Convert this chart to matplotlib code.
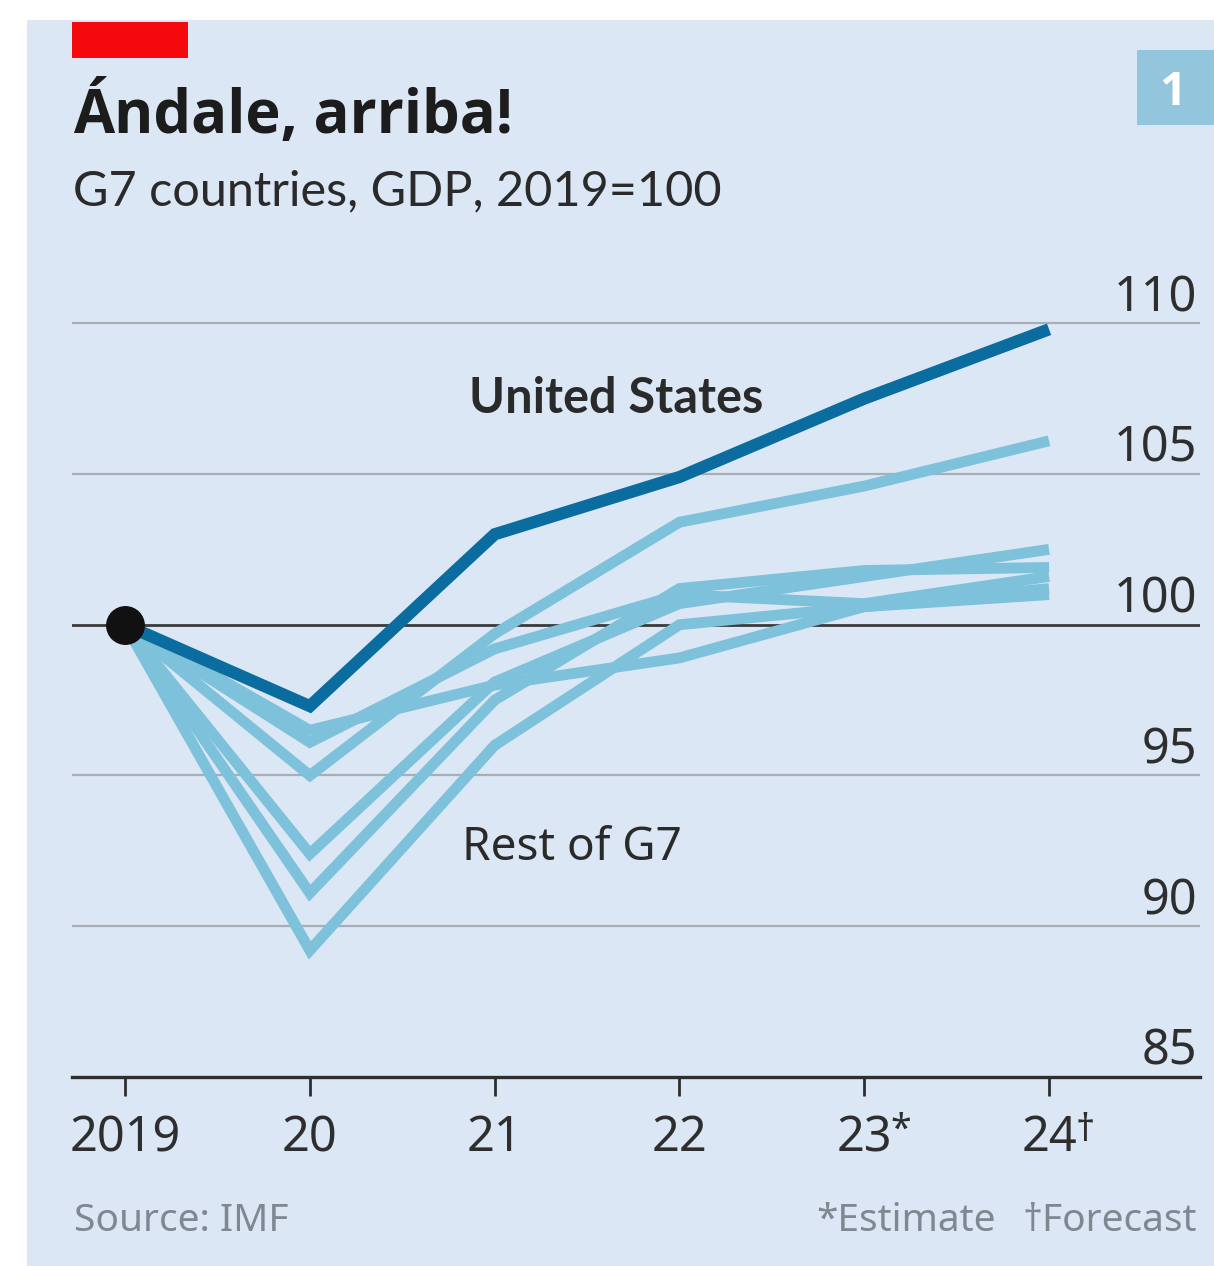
import matplotlib
matplotlib.use("Agg")
import matplotlib.pyplot as plt
from matplotlib.patches import Rectangle
from matplotlib import transforms

# GDP index, 2019 = 100
years = [2019, 2020, 2021, 2022, 2023, 2024]
year_labels = ["2019", "20", "21", "22", "23", "24"]
year_marks = {2023: "*", 2024: "\u2020"}

us = [100, 97.3, 103.0, 104.9, 107.5, 109.8]

canada = [100, 95.0, 99.7, 103.4, 104.6, 106.1]
japan = [100, 96.5, 98.0, 98.9, 100.6, 101.2]
germany = [100, 96.1, 99.2, 101.0, 100.7, 101.6]
france = [100, 92.4, 98.1, 100.7, 101.6, 102.5]
italy = [100, 91.1, 97.5, 101.2, 101.8, 101.9]
uk = [100, 89.2, 96.0, 100.0, 100.6, 101.0]
rest_of_g7 = [canada, japan, germany, france, italy, uk]

yticks = [85, 90, 95, 100, 105, 110]

BG = "#dbe7f4"
DARK = "#0a6c9f"
LIGHT = "#7dc1da"
TXT = "#1c1c1c"
NARROW = dict(family=["Noto Sans Condensed", "Noto Sans", "DejaVu Sans"],
              fontstretch="condensed")
SANS = ["Lato", "DejaVu Sans"]
WIDE = ["Open Sans", "DejaVu Sans"]

fig = plt.figure(figsize=(12.14, 12.66), dpi=100, facecolor="white")

# panel background and header furniture
fig.add_artist(Rectangle((0.0222, 0), 1.0, 0.9842, transform=fig.transFigure,
                         facecolor=BG, edgecolor="none", zorder=-10))
fig.add_artist(Rectangle((0.0593, 0.9542), 0.0956, 0.0284, transform=fig.transFigure,
                         facecolor="#f5090d", edgecolor="none"))
fig.add_artist(Rectangle((0.9366, 0.9013), 0.0634, 0.0592, transform=fig.transFigure,
                         facecolor="#93c6dc", edgecolor="none"))
fig.text(0.9662, 0.927, "1", color="white", fontsize=34, fontweight="bold",
         family=WIDE, ha="center", va="center")

fig.text(0.060, 0.895, "\u00c1ndale, arriba!", fontsize=43, fontweight="bold",
         color=TXT, family=WIDE, ha="left", va="baseline")
fig.text(0.060, 0.838, "G7 countries, GDP, 2019=100", fontsize=35,
         color="#2a2a2a", family=SANS, ha="left", va="baseline")

ax = fig.add_axes([0.0593, 0.1493, 0.9292, 0.643])
ax.set_facecolor("none")
ax.set_xlim(2018.713, 2024.817)
ax.set_ylim(85, 112)

for v in yticks:
    if v == 100:
        ax.axhline(v, color="#3a3a3a", lw=2.0, zorder=1)
    elif v != 85:
        ax.axhline(v, color="#a9aeb6", lw=1.6, zorder=1)

for series in rest_of_g7:
    ax.plot(years, series, color=LIGHT, lw=7.8, solid_capstyle="butt",
            solid_joinstyle="miter", zorder=3)
ax.plot(years, us, color=DARK, lw=8.8, solid_capstyle="butt",
        solid_joinstyle="miter", zorder=4)
ax.plot([years[0]], [us[0]], "o", ms=27, color="#111111", zorder=5)

# y labels sit above their gridlines at the right edge
ytrans = transforms.blended_transform_factory(ax.transAxes, ax.transData)
for v in yticks:
    ax.text(0.9975, v, str(v), transform=ytrans, ha="right", va="bottom",
            fontsize=35, color="#2e2e2e", **NARROW)

ax.text(2021.66, 107.5, "United States", fontsize=35, fontweight="bold",
        color="#2a2a2a", family=SANS, ha="center", va="center")
ax.text(2021.42, 92.6, "Rest of G7", fontsize=33, color="#2a2a2a",
        ha="center", va="center", **NARROW)

for s in ["left", "right", "top"]:
    ax.spines[s].set_visible(False)
ax.spines["bottom"].set_color("#2e2e2e")
ax.spines["bottom"].set_linewidth(2.4)
ax.set_yticks([])
ax.set_xticks(years)
ax.set_xticklabels(year_labels, fontsize=35, color="#2e2e2e", **NARROW)
ax.tick_params(axis="x", length=14, width=2.0, color="#2e2e2e", pad=12)

# footnote symbols hang to the right of their year labels
for yr, mark in year_marks.items():
    ax.annotate(mark, xy=(yr, 85), xycoords="data", xytext=(19, -25),
                textcoords="offset points", fontsize=27, color="#2e2e2e",
                ha="left", va="top", **NARROW)

fig.text(0.061, 0.028, "Source: IMF", fontsize=28, color="#7f8891",
         ha="left", va="baseline", **NARROW)
fig.text(0.820, 0.028, "*Estimate", fontsize=28, color="#7f8891",
         ha="right", va="baseline", **NARROW)
fig.text(0.986, 0.028, "\u2020Forecast", fontsize=28, color="#7f8891",
         ha="right", va="baseline", **NARROW)

fig.savefig("out.png", dpi=100, facecolor="white")
